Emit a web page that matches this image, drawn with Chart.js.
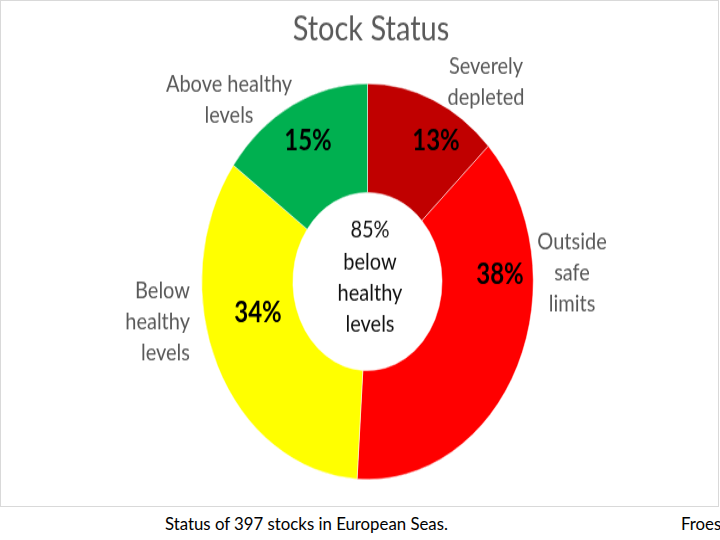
<!DOCTYPE html>
<html>
<head>
<meta charset="utf-8">
<script src="https://cdn.jsdelivr.net/npm/chart.js@4.4.1/dist/chart.umd.min.js"></script>
<style>
  html, body { margin: 0; padding: 0; background: #fff; width: 720px; height: 540px; overflow: hidden; }
  #frame { position: absolute; left: 0; top: 0; width: 717px; height: 505px; border: 1px solid #d9d9d9; }
  #stretch { position: absolute; left: 0; top: 0; width: 717px; height: 423px;
             transform: scaleY(1.19385); transform-origin: 0 0; }
  .caption { position: absolute; top: 513px; font: 16.8px Lato, sans-serif; color: #000; white-space: nowrap; }
</style>
</head>
<body>
<div id="frame">
  <div id="stretch"><canvas id="stockChart"></canvas></div>
</div>
<div class="caption" style="left:165px">Status of 397 stocks in European Seas.</div>
<div class="caption" style="left:681px">Froes</div>

<script>
// ============ data ============ //
const chartTitle = 'Stock Status';
const categories = [['Severely', 'depleted'], ['Outside', 'safe', 'limits'], ['Below', 'healthy', 'levels'], ['Above healthy', 'levels']];
const shares = [13, 38, 34, 15];
const sliceColors = ['#C00000', '#FF0000', '#FFFF00', '#00B050'];
const belowShare = shares[0] + shares[1] + shares[2];
const centerLines = [belowShare + '%', 'below', 'healthy', 'levels'];

// text anchors (canvas units, before the vertical stretch)
const catPos = [
    { x: 485, y: 55, align: 'center' },
    { x: 571, y: 202, align: 'center' },
    { x: 189, y: 243, align: 'right' },
    { x: 228, y: 70, align: 'center' }
];
const pctPos = [{ x: 435, y: 117 }, { x: 499, y: 229 }, { x: 257, y: 261 }, { x: 307, y: 117 }];
const lineGap = 26;

const textPlugin = {
    id: 'stockText',
    afterDraw(chart) {
        const ctx = chart.ctx;
        ctx.save();
        ctx.textBaseline = 'middle';

        // title
        ctx.fillStyle = '#595959';
        ctx.textAlign = 'center';
        ctx.font = '29px Lato';
        ctx.fillText(chartTitle, 370, 24);

        // category labels
        ctx.font = '20px Lato';
        categories.forEach((lines, i) => {
            ctx.textAlign = catPos[i].align;
            lines.forEach((t, j) => ctx.fillText(t, catPos[i].x, catPos[i].y + j * lineGap));
        });

        // percentages
        ctx.fillStyle = '#000';
        ctx.textAlign = 'center';
        ctx.font = 'bold 24px Lato';
        shares.forEach((v, i) => ctx.fillText(v + '%', pctPos[i].x, pctPos[i].y));

        // hole text
        ctx.fillStyle = '#111';
        ctx.font = '20px Lato';
        centerLines.forEach((t, j) => ctx.fillText(t, 369, 192 + j * lineGap + (j > 0 ? 1 : 0)));
        ctx.restore();
    }
};

const stockChart = new Chart(document.getElementById('stockChart').getContext('2d'), {
    type: 'doughnut',
    data: {
        labels: categories,
        datasets: [{
            data: shares,
            backgroundColor: sliceColors,
            borderColor: '#ffffff',
            borderWidth: 0.5
        }]
    },
    options: {
        responsive: true,
        maintainAspectRatio: false,
        animation: false,
        events: [],
        cutout: '45%',
        layout: { padding: { left: 200, right: 184, top: 69, bottom: 22 } },
        plugins: {
            legend: { display: false },
            title: { display: false },
            tooltip: { enabled: false }
        }
    },
    plugins: [textPlugin]
});
</script>
</body>
</html>
